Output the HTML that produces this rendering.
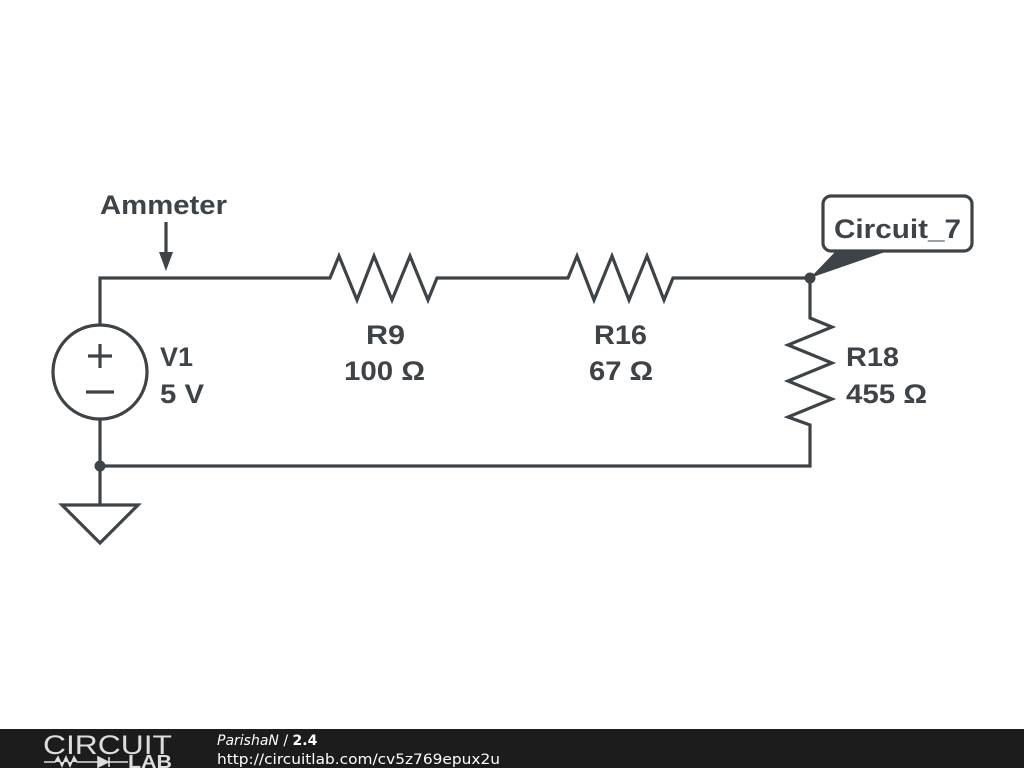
<!DOCTYPE html>
<html><head><meta charset="utf-8"><style>
html,body{margin:0;padding:0;background:#fff;width:1024px;height:768px;overflow:hidden}
svg{display:block}
</style></head><body>
<svg width="1024" height="768" viewBox="0 0 1024 768" xmlns="http://www.w3.org/2000/svg">
<g stroke="#3d4347" stroke-width="3.2" fill="none" stroke-linejoin="miter">
<path d="M100 325 V278 H330 L339 256 L357 300 L374 256 L392 300 L410 256 L428 300 L437 278 H568 L577 256 L594 300 L612 256 L629 300 L647 256 L664 300 L673 278 H810 V318 L832 327 L788 345 L832 363 L788 381 L832 399 L788 417 L810 425 V466 H100 V419"/>
<circle cx="100" cy="372" r="47"/>
<path d="M88 356 H112 M100 344 V368 M86 392 H114"/>
<path d="M100 466 V505 M62 505 H138 L100 543 Z"/>
<path d="M166 222 V255"/>
<rect x="823" y="196" width="149" height="55" rx="8" fill="#fff"/>
</g>
<polygon points="159,252 173,252 166,271" fill="#3d4347"/>
<polygon points="810,278 835,252 885,252" fill="#3d4347"/>
<circle cx="100" cy="466" r="5.5" fill="#3d4347"/>
<circle cx="810" cy="278" r="5.5" fill="#3d4347"/>
<g font-family="Liberation Sans, sans-serif" font-weight="bold" font-size="27" fill="#3d4347" lengthAdjust="spacingAndGlyphs">
<text x="100" y="214" textLength="127" lengthAdjust="spacingAndGlyphs">Ammeter</text>
<text x="834" y="238" textLength="127" lengthAdjust="spacingAndGlyphs">Circuit_7</text>
<text x="160" y="366" textLength="33" lengthAdjust="spacingAndGlyphs">V1</text>
<text x="160" y="403" textLength="44" lengthAdjust="spacingAndGlyphs">5 V</text>
<text x="366" y="344" textLength="39" lengthAdjust="spacingAndGlyphs">R9</text>
<text x="344" y="380" textLength="81" lengthAdjust="spacingAndGlyphs">100 Ω</text>
<text x="594" y="344" textLength="53" lengthAdjust="spacingAndGlyphs">R16</text>
<text x="589" y="380" textLength="64" lengthAdjust="spacingAndGlyphs">67 Ω</text>
<text x="846" y="366" textLength="53" lengthAdjust="spacingAndGlyphs">R18</text>
<text x="846" y="403" textLength="81" lengthAdjust="spacingAndGlyphs">455 Ω</text>
</g>
<rect x="0" y="729" width="1024" height="39" fill="#1c1c1c"/>
<text x="43" y="754" font-family="Liberation Sans, sans-serif" font-size="27" fill="#ddd" textLength="129" lengthAdjust="spacingAndGlyphs">CIRCUIT</text>
<path d="M44 762 H55 L58 757 L62 766 L66 757 L70 766 L74 757 L77 762 H98 M98 757 L108 762 L98 767 Z M109 757 V767 M109 762 H128" stroke="#ddd" stroke-width="1.6" fill="#ddd"/>
<text x="128" y="768" font-family="Liberation Sans, sans-serif" font-weight="bold" font-size="18" fill="#ddd" textLength="44" lengthAdjust="spacingAndGlyphs">LAB</text>
<text x="217" y="745" font-family="DejaVu Sans, sans-serif" font-size="14" fill="#fff"><tspan font-style="italic">ParishaN</tspan> / <tspan font-weight="bold">2.4</tspan></text>
<text x="217" y="764" font-family="DejaVu Sans, sans-serif" font-size="14" fill="#fff" textLength="283" lengthAdjust="spacingAndGlyphs">http://circuitlab.com/cv5z769epux2u</text>
</svg>
</body></html>
